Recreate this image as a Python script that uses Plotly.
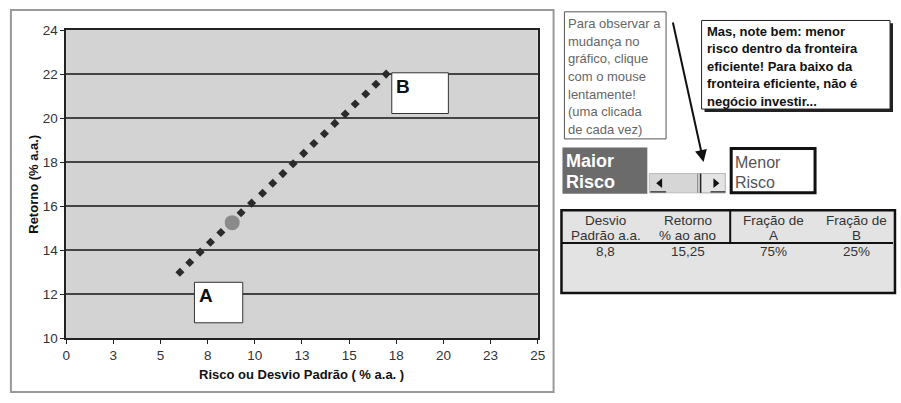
import plotly.graph_objects as go

# ---------------- data ----------------
risk = [6.03, 6.55, 7.10, 7.65, 8.20, 9.27, 9.83, 10.41, 10.95, 11.49,
        12.03, 12.59, 13.13, 13.69, 14.24, 14.79, 15.32, 15.88, 16.42, 16.96]
ret = [13.0, 13.44, 13.91, 14.36, 14.80, 15.70, 16.14, 16.59, 17.04, 17.48,
       17.93, 18.40, 18.85, 19.29, 19.76, 20.19, 20.64, 21.10, 21.54, 22.0]
current_risk = [8.8]
current_ret = [15.25]

x_tickvals = [0, 2.5, 5, 7.5, 10, 12.5, 15, 17.5, 20, 22.5, 25]
x_ticktext = ["0", "3", "5", "8", "10", "13", "15", "18", "20", "23", "25"]
y_tickvals = [10, 12, 14, 16, 18, 20, 22, 24]

table_headers = [["Desvio", "Padrão a.a."], ["Retorno", "% ao ano"],
                 ["Fração de", "A"], ["Fração de", "B"]]
table_values = ["8,8", "15,25", "75%", "25%"]

note_lines = ["Para observar a", "mudança no", "gráfico, clique", "com o mouse",
              "lentamente!", "(uma clicada", "de cada vez)"]
bold_lines = ["Mas, note bem: menor", "risco dentro da fronteira",
              "eficiente! Para baixo da", "fronteira eficiente, não é",
              "negócio investir..."]

W, H = 901, 403
FONT = "Liberation Sans, Arial, sans-serif"


def px(x):
    return x / W


def py(y):
    return 1 - y / H


fig = go.Figure()
fig.add_trace(go.Scatter(x=risk, y=ret, mode="markers",
                         marker=dict(symbol="diamond", size=7, color="#2b2b2b"),
                         showlegend=False, hoverinfo="x+y"))
fig.add_trace(go.Scatter(x=current_risk, y=current_ret, mode="markers",
                         marker=dict(symbol="circle", size=15, color="#8a8a8a"),
                         showlegend=False))

shapes = []
annotations = []

# outer chart frame
shapes.append(dict(type="rect", xref="paper", yref="paper",
                   x0=px(7), x1=px(557), y0=py(400), y1=py(3),
                   line=dict(color="#999", width=2), layer="below"))

# A and B label boxes
shapes.append(dict(type="rect", xref="x", yref="y", x0=6.80, x1=9.36, y0=10.70, y1=12.54,
                   fillcolor="white", line=dict(color="#333", width=1), layer="above"))
shapes.append(dict(type="rect", xref="x", yref="y", x0=17.26, x1=20.26, y0=20.21, y1=22.06,
                   fillcolor="white", line=dict(color="#333", width=1), layer="above"))
annotations.append(dict(xref="x", yref="y", x=6.92, y=12.50, text="<b>A</b>", showarrow=False,
                        xanchor="left", yanchor="top",
                        font=dict(family=FONT, size=19, color="#111")))
annotations.append(dict(xref="x", yref="y", x=17.38, y=22.02, text="<b>B</b>", showarrow=False,
                        xanchor="left", yanchor="top",
                        font=dict(family=FONT, size=19, color="#111")))

# axis titles
annotations.append(dict(xref="paper", yref="paper", x=px(302), y=py(382),
                        text="<b>Risco ou Desvio Padrão ( % a.a. )</b>", showarrow=False,
                        xanchor="center", yanchor="middle",
                        font=dict(family=FONT, size=13, color="#111")))
annotations.append(dict(xref="paper", yref="paper", x=px(30), y=py(184),
                        text="<b>Retorno (% a.a.)</b>", showarrow=False, textangle=-90,
                        xanchor="center", yanchor="middle",
                        font=dict(family=FONT, size=13, color="#111")))

# note box (gray text)
shapes.append(dict(type="rect", xref="paper", yref="paper",
                   x0=px(568), x1=px(671), y0=py(137), y1=py(5),
                   fillcolor="white", line=dict(color="#555", width=1)))
for i, t in enumerate(note_lines):
    annotations.append(dict(xref="paper", yref="paper", x=px(570), y=py(17 + i * 18.4),
                            text=t, showarrow=False, xanchor="left", yanchor="middle",
                            font=dict(family=FONT, size=13, color="#666")))

# arrow
annotations.append(dict(xref="paper", yref="paper", x=px(709), y=py(161), text="",
                        showarrow=True, ax=-31, ay=-141, arrowhead=2, arrowsize=1.2,
                        arrowwidth=2, arrowcolor="#111"))

# bold box with shadow
shapes.append(dict(type="rect", xref="paper", yref="paper",
                   x0=px(710), x1=px(901), y0=py(109), y1=py(17),
                   fillcolor="#222", line=dict(width=0)))
shapes.append(dict(type="rect", xref="paper", yref="paper",
                   x0=px(707), x1=px(898), y0=py(106), y1=py(14),
                   fillcolor="white", line=dict(color="#222", width=1)))
for i, t in enumerate(bold_lines):
    annotations.append(dict(xref="paper", yref="paper", x=px(710), y=py(25 + i * 18.3),
                            text="<b>" + t + "</b>", showarrow=False, xanchor="left",
                            yanchor="middle",
                            font=dict(family=FONT, size=13, color="#111")))

# Maior Risco
shapes.append(dict(type="rect", xref="paper", yref="paper",
                   x0=px(566), x1=px(652), y0=py(194), y1=py(146),
                   fillcolor="#6b6b6b", line=dict(width=0)))
for i, t in enumerate(["Maior", "Risco"]):
    annotations.append(dict(xref="paper", yref="paper", x=px(568), y=py(160 + i * 22),
                            text="<b>" + t + "</b>", showarrow=False, xanchor="left",
                            yanchor="middle",
                            font=dict(family=FONT, size=18, color="white")))

# scrollbar
shapes.append(dict(type="rect", xref="paper", yref="paper",
                   x0=px(654), x1=px(731), y0=py(193), y1=py(173),
                   fillcolor="#d6d6d6", line=dict(color="#bbb", width=1)))
shapes.append(dict(type="rect", xref="paper", yref="paper",
                   x0=px(706), x1=px(731), y0=py(193), y1=py(173),
                   fillcolor="#e4e4e4", line=dict(color="#bbb", width=1)))
shapes.append(dict(type="line", xref="paper", yref="paper",
                   x0=px(703), x1=px(703), y0=py(193), y1=py(173),
                   line=dict(color="#888", width=1)))
shapes.append(dict(type="line", xref="paper", yref="paper",
                   x0=px(706), x1=px(706), y0=py(193), y1=py(173),
                   line=dict(color="#222", width=1.5)))
shapes.append(dict(type="line", xref="paper", yref="paper",
                   x0=px(655), x1=px(671), y0=py(192), y1=py(192),
                   line=dict(color="#444", width=1.5)))
shapes.append(dict(type="line", xref="paper", yref="paper",
                   x0=px(716), x1=px(731), y0=py(192), y1=py(192),
                   line=dict(color="#444", width=1.5)))
shapes.append(dict(type="path", xref="paper", yref="paper",
                   path=f"M {px(661)} {py(183)} L {px(667)} {py(178)} L {px(667)} {py(188)} Z",
                   fillcolor="#111", line=dict(width=0)))
shapes.append(dict(type="path", xref="paper", yref="paper",
                   path=f"M {px(725)} {py(183)} L {px(719)} {py(178)} L {px(719)} {py(188)} Z",
                   fillcolor="#111", line=dict(width=0)))

# Menor Risco box
shapes.append(dict(type="rect", xref="paper", yref="paper",
                   x0=px(737), x1=px(822), y0=py(193), y1=py(147),
                   fillcolor="white", line=dict(color="#111", width=3)))
for i, t in enumerate(["Menor", "Risco"]):
    annotations.append(dict(xref="paper", yref="paper", x=px(739), y=py(161 + i * 21),
                            text=t, showarrow=False, xanchor="left", yanchor="middle",
                            font=dict(family=FONT, size=16, color="#555")))

# table
shapes.append(dict(type="rect", xref="paper", yref="paper",
                   x0=px(565), x1=px(903), y0=py(297), y1=py(211),
                   fillcolor="#e3e3e3", line=dict(color="#111", width=2.5)))
shapes.append(dict(type="line", xref="paper", yref="paper",
                   x0=px(565), x1=px(901), y0=py(245), y1=py(245),
                   line=dict(color="#111", width=2)))
shapes.append(dict(type="line", xref="paper", yref="paper",
                   x0=px(736), x1=px(736), y0=py(245), y1=py(211),
                   line=dict(color="#111", width=2)))
col_centers = [610, 693, 780, 864]
for c, hdr, val in zip(col_centers, table_headers, table_values):
    for j, t in enumerate(hdr):
        annotations.append(dict(xref="paper", yref="paper", x=px(c), y=py(222 + j * 15.5),
                                text=t, showarrow=False, xanchor="center", yanchor="middle",
                                borderpad=0,
                                font=dict(family=FONT, size=13.5, color="#333")))
    annotations.append(dict(xref="paper", yref="paper", x=px(c), y=py(254),
                            text=val, showarrow=False, xanchor="center", yanchor="middle",
                            font=dict(family=FONT, size=13.5, color="#333")))

fig.update_layout(
    width=W, height=H,
    margin=dict(l=0, r=0, t=0, b=0),
    paper_bgcolor="white",
    plot_bgcolor="#d3d3d3",
    showlegend=False,
    shapes=shapes,
    annotations=annotations,
    xaxis=dict(domain=[px(63), px(541)], range=[0, 25], tickmode="array",
               tickvals=x_tickvals, ticktext=x_ticktext, ticks="outside", ticklen=4,
               tickcolor="#222", showgrid=False, zeroline=False, showline=True,
               linecolor="#222", linewidth=1.5, mirror=True,
               tickfont=dict(family=FONT, size=13.5, color="#333")),
    yaxis=dict(domain=[py(344), py(24)], range=[10, 24], tickmode="array",
               tickvals=y_tickvals, ticks="outside", ticklen=4, tickcolor="#222",
               showgrid=True, gridcolor="#444", gridwidth=1.5, zeroline=False,
               showline=True, linecolor="#222", linewidth=1.5, mirror=True,
               tickfont=dict(family=FONT, size=13.5, color="#333")),
)

fig.write_html("out.html")
